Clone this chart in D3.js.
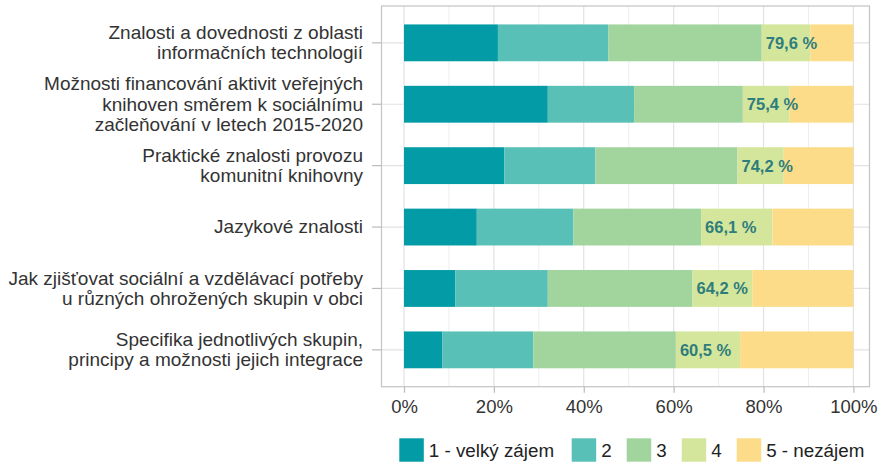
<!DOCTYPE html>
<html><head><meta charset="utf-8">
<script src="https://cdn.jsdelivr.net/npm/d3@7"></script>
<style>body{margin:0;background:#fff}svg{display:block}text{font-family:"Liberation Sans",Arial,sans-serif}</style>
</head><body><svg id="c" width="881" height="464"></svg>
<script>
const categories = [
  ["Znalosti a dovednosti z oblasti","informačních technologií"],
  ["Možnosti financování aktivit veřejných","knihoven směrem k sociálnímu","začleňování v letech 2015-2020"],
  ["Praktické znalosti provozu","komunitní knihovny"],
  ["Jazykové znalosti"],
  ["Jak zjišťovat sociální a vzdělávací potřeby","u různých ohrožených skupin v obci"],
  ["Specifika jednotlivých skupin,","principy a možnosti jejich integrace"]
];
const seriesNames = ["1 - velký zájem","2","3","4","5 - nezájem"];
const s1 = [20.9, 32.0, 22.3, 16.2, 11.4, 8.5];
const s2 = [24.6, 19.2, 20.3, 21.5, 20.6, 20.3];
const s3 = [34.1, 24.2, 31.6, 28.4, 32.2, 31.7];
const s4 = [10.8, 10.4, 10.3, 15.9, 13.3, 14.3];
const s5 = [9.6, 14.2, 15.5, 18.0, 22.5, 25.2];
const labels = ["79,6 %","75,4 %","74,2 %","66,1 %","64,2 %","60,5 %"];
const xTicks = [0,20,40,60,80,100];
const colors = ["#039ba6","#59c0b7","#a2d49d","#d4e69b","#fcdc88"];

const svg = d3.select("#c");
const panel = {l:381.5, r:869.5, t:6, b:386.7};
const x = d3.scaleLinear().domain([0,100]).range([404,853.4]);
const keys = categories.map((d,i)=>"c"+i);
// ggplot-style discrete expansion of 0.6 units each side, bar width 0.6
const y = d3.scaleBand().domain(keys).range([panel.t,panel.b]).paddingInner(0.4).paddingOuter(0.3);
const yc = i => y(keys[i]) + y.bandwidth()/2;
const bh = y.bandwidth();

// grid
const g = svg.append("g");
d3.range(10,100,20).forEach(v=>g.append("line").attr("x1",x(v)).attr("x2",x(v)).attr("y1",panel.t).attr("y2",panel.b).attr("stroke","#eeeeee").attr("stroke-width",1));
xTicks.forEach(v=>g.append("line").attr("x1",x(v)).attr("x2",x(v)).attr("y1",panel.t).attr("y2",panel.b).attr("stroke","#e2e2e2").attr("stroke-width",1.2));
categories.forEach((c,i)=>g.append("line").attr("x1",panel.l).attr("x2",panel.r).attr("y1",yc(i)).attr("y2",yc(i)).attr("stroke","#e2e2e2").attr("stroke-width",1.2));

// bars
const series = [s1,s2,s3,s4,s5];
categories.forEach((c,i)=>{
  let cum=0;
  series.forEach((s,k)=>{
    svg.append("rect").attr("x",x(cum)).attr("width",x(cum+s[i])-x(cum))
      .attr("y",yc(i)-bh/2).attr("height",bh).attr("fill",colors[k]);
    cum+=s[i];
  });
  const c3 = s1[i]+s2[i]+s3[i];
  svg.append("text").attr("x",x(c3)+4).attr("y",yc(i)).attr("dy","0.36em")
    .attr("font-size",16.5).attr("fill","#2e7d7d").attr("font-weight","bold").text(labels[i]);
});

// panel border
svg.append("rect").attr("x",panel.l).attr("y",panel.t).attr("width",panel.r-panel.l).attr("height",panel.b-panel.t)
  .attr("fill","none").attr("stroke","#c4c4c4").attr("stroke-width",1.2);

// y axis ticks and labels
categories.forEach((c,i)=>{
  svg.append("line").attr("x1",372).attr("x2",panel.l).attr("y1",yc(i)).attr("y2",yc(i)).attr("stroke","#bbbbbb").attr("stroke-width",1.2);
  const t = svg.append("text").attr("text-anchor","end").attr("font-size",19).attr("fill","#333");
  const lh = 20.2;
  c.forEach((line,j)=>{
    t.append("tspan").attr("x",363).attr("y",yc(i)+(j-(c.length-1)/2)*lh).attr("dy","0.33em").text(line);
  });
});

// x axis
const xa = svg.append("g").attr("transform",`translate(0,${panel.b})`)
  .call(d3.axisBottom(x).tickValues(xTicks).tickFormat(d=>d+"%").tickSize(6).tickPadding(7));
xa.select(".domain").remove();
xa.selectAll("line").attr("stroke","#bbbbbb").attr("stroke-width",1.2);
xa.selectAll("text").attr("font-size",18.5).attr("fill","#333").attr("font-family",'"Liberation Sans",Arial,sans-serif');

// legend
const legX = [399.3, 571.7, 626.7, 681.7, 736.7];
seriesNames.forEach((n,k)=>{
  svg.append("rect").attr("x",legX[k]).attr("y",438.3).attr("width",24.5).attr("height",23.4).attr("fill",colors[k]);
  svg.append("text").attr("x",legX[k]+29.5).attr("y",450).attr("dy","0.36em").attr("font-size",18.8).attr("fill","#222").text(n);
});
</script></body></html>
